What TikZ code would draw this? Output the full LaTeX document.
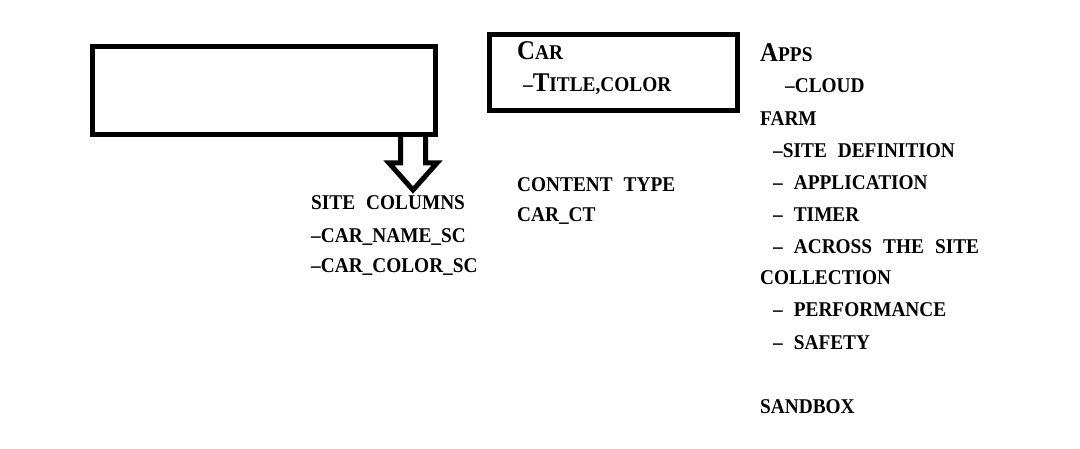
\documentclass[tikz,border=0pt]{standalone}
\usepackage{fontspec}
\newfontfamily\lbfont[FakeStretch=0.92]{Liberation Serif}
\newcommand{\capbig}[1]{{\fontsize{27}{30}\selectfont #1}}
\newcommand{\wsp}{\hspace{11pt}}
\begin{document}
\begin{tikzpicture}[x=1pt,y=-1pt]
 \tikzset{box/.style={draw, line width=5pt, inner sep=0pt}}
 \tikzset{txt/.style={anchor=base west, inner sep=0pt, font=\lbfont\bfseries\fontsize{21}{25}\selectfont}}
  \useasboundingbox (0,0) rectangle (1080,449);
  \node[box, minimum width=343pt, minimum height=88pt] (B1) at (264,90.5) {};
  \node[box, minimum width=248pt, minimum height=76pt] (B2) at (613.5,72.5) {};
  \draw[line width=5pt, line join=miter] (400.5,134.5) |- (389,163) -- (413,190) -- (437,163) -| (425.5,134.5);
  % inside the right box
  \node[txt] (C1) at (517,60) {\capbig{C}AR};
  \node[txt] (C2) at (523,92) {\textendash\capbig{T}ITLE,COLOR};
  \node[txt] (T1) at (517,192) {CONTENT\wsp TYPE};
  \node[txt] (T2) at (517,222) {CAR\_CT};
  % under the arrow
  \node[txt] (S1) at (311,210) {SITE\wsp COLUMNS};
  \node[txt] (S2) at (311,243) {\textendash CAR\_NAME\_SC};
  \node[txt] (S3) at (311,273) {\textendash CAR\_COLOR\_SC};
  % right column
  \node[txt] (R1) at (760,62) {\capbig{A}PPS};
  \node[txt] (R2) at (785,93) {\textendash CLOUD};
  \node[txt] (R3) at (760,126) {FARM};
  \node[txt] (R4) at (773,158) {\textendash SITE\wsp DEFINITION};
  \node[txt] (R5) at (773,190) {\textendash\wsp APPLICATION};
  \node[txt] (R6) at (773,222) {\textendash\wsp TIMER};
  \node[txt] (R7) at (773,254) {\textendash\wsp ACROSS\wsp THE\wsp SITE};
  \node[txt] (R8) at (760,285) {COLLECTION};
  \node[txt] (R9) at (773,317) {\textendash\wsp PERFORMANCE};
  \node[txt] (R10) at (773,349) {\textendash\wsp SAFETY};
  \node[txt] (R11) at (760,413) {SANDBOX};
\end{tikzpicture}
\end{document}
